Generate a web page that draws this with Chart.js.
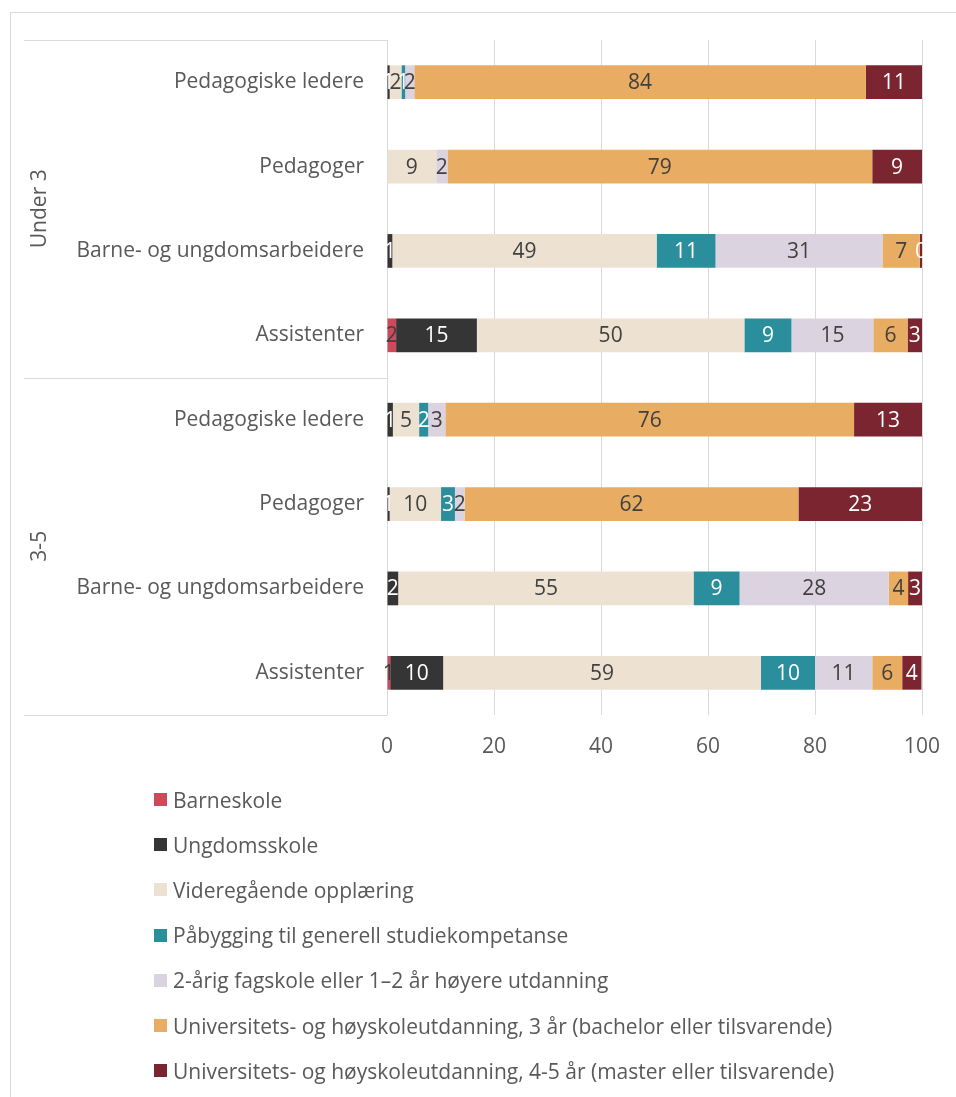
<!DOCTYPE html>
<html>
<head>
<meta charset="utf-8">
<script src="https://cdn.jsdelivr.net/npm/chart.js@4"></script>
<style>
  html, body { margin: 0; padding: 0; background: #fff; overflow: hidden; }
  #frame { position: absolute; left: 10px; top: 12px; width: 1000px; height: 1200px; border: 1px solid #d9d9d9; }
  #wrap { position: absolute; left: 0; top: 0; width: 956px; height: 780px; }
  #legend { position: absolute; left: 154px; top: 777px; font-family: "Open Sans", sans-serif; font-size: 21px; color: #595959; }
  #legend div { height: 45.2px; display: flex; align-items: center; }
  #legend span.box { display: inline-block; width: 13px; height: 13px; margin-right: 6px; }
</style>
</head>
<body>
<div id="frame"></div>
<div id="wrap"><canvas id="chart" width="956" height="780"></canvas></div>
<div id="legend"></div>
<script>
// categories (top to bottom) and groups
const categories = ['Pedagogiske ledere', 'Pedagoger', 'Barne- og ungdomsarbeidere', 'Assistenter',
                    'Pedagogiske ledere', 'Pedagoger', 'Barne- og ungdomsarbeidere', 'Assistenter'];
const groups = ['Under 3', '3-5'];
const xTicks = [0, 20, 40, 60, 80, 100];

// series values, percent
const barneskole      = [0,    0,    0,    1.7,  0,    0,    0,    0.6];
const ungdomsskole    = [0.5,  0,    1.0,  15.1, 1.1,  0.5,  2.1,  9.9];
const videregaende    = [2.2,  9.2,  49.4, 50.0, 4.9,  9.6,  55.2, 59.4];
const pabygging       = [0.7,  0,    11.0, 8.8,  1.7,  2.6,  8.6,  10.1];
const fagskole        = [1.7,  2.1,  31.2, 15.3, 3.2,  1.8,  27.9, 10.7];
const uni3            = [84.4, 79.4, 7.0,  6.4,  76.4, 62.4, 3.6,  5.6];
const uni45           = [10.5, 9.3,  0.4,  2.7,  12.7, 23.1, 2.6,  3.6];

const seriesNames = [
  'Barneskole',
  'Ungdomsskole',
  'Videregående opplæring',
  'Påbygging til generell studiekompetanse',
  '2-årig fagskole eller 1–2 år høyere utdanning',
  'Universitets- og høyskoleutdanning, 3 år (bachelor eller tilsvarende)',
  'Universitets- og høyskoleutdanning, 4-5 år (master eller tilsvarende)'
];
const seriesData = [barneskole, ungdomsskole, videregaende, pabygging, fagskole, uni3, uni45];
const colors = ['#cd4a5c', '#353535', '#ede2d2', '#2b8e9c', '#dbd4e0', '#e8ad62', '#7b2530'];
const labelColors = ['#404040', '#ffffff', '#404040', '#ffffff', '#404040', '#404040', '#ffffff'];

const FONT = '"Open Sans", sans-serif';
const SIZE = 21;
const TEXT = '#595959';
const LINE = '#d9d9d9';

// value labels centred in each segment
const valueLabels = {
  id: 'valueLabels',
  afterDatasetsDraw(chart) {
    const ctx = chart.ctx;
    ctx.save();
    ctx.font = SIZE + 'px ' + FONT;
    ctx.textAlign = 'center';
    ctx.textBaseline = 'middle';
    chart.data.datasets.forEach((ds, i) => {
      const meta = chart.getDatasetMeta(i);
      meta.data.forEach((bar, j) => {
        const v = ds.data[j];
        if (!v) return;
        ctx.fillStyle = labelColors[i];
        ctx.fillText(String(Math.round(v)), (bar.x + bar.base) / 2, bar.y + 1);
      });
    });
    ctx.restore();
  }
};

// two-level category axis: separators and rotated group labels
const groupAxis = {
  id: 'groupAxis',
  afterDraw(chart) {
    const ctx = chart.ctx;
    const area = chart.chartArea;
    const left = 24;
    const per = categories.length / groups.length;
    const step = (area.bottom - area.top) / categories.length;
    ctx.save();
    ctx.strokeStyle = LINE;
    ctx.lineWidth = 1;
    for (let g = 0; g <= groups.length; g++) {
      const yy = Math.round(area.top + g * per * step) + 0.5;
      ctx.beginPath();
      ctx.moveTo(left, yy);
      ctx.lineTo(area.left, yy);
      ctx.stroke();
    }
    ctx.fillStyle = TEXT;
    ctx.font = SIZE + 'px ' + FONT;
    ctx.textAlign = 'center';
    ctx.textBaseline = 'middle';
    groups.forEach((name, g) => {
      const cy = area.top + (g + 0.5) * per * step;
      ctx.save();
      ctx.translate(40, cy);
      ctx.rotate(-Math.PI / 2);
      ctx.fillText(name, 0, 0);
      ctx.restore();
    });
    ctx.restore();
  }
};

const chart = new Chart(document.getElementById('chart'), {
  type: 'bar',
  data: {
    labels: categories,
    datasets: seriesNames.map((name, i) => ({
      label: name,
      data: seriesData[i],
      backgroundColor: colors[i],
      borderWidth: 0,
      barPercentage: 0.4,
      categoryPercentage: 1,
      stack: 's'
    }))
  },
  plugins: [valueLabels, groupAxis],
  options: {
    indexAxis: 'y',
    responsive: false,
    animation: false,
    layout: { padding: { top: 40, right: 34, left: 24, bottom: 0 } },
    plugins: {
      legend: { display: false },
      tooltip: { enabled: false }
    },
    scales: {
      x: {
        stacked: true,
        min: 0,
        max: 100,
        afterBuildTicks: (s) => { s.ticks = xTicks.map(v => ({ value: v })); },
        afterFit: (s) => { s.height = 65; s.paddingRight = 0; s.paddingLeft = 0; },
        grid: { color: LINE, drawTicks: false },
        border: { display: false },
        ticks: { color: TEXT, font: { family: FONT, size: SIZE }, padding: 19 }
      },
      y: {
        stacked: true,
        afterFit: (s) => { s.width = 363; },
        grid: { display: false, drawTicks: false },
        border: { display: false },
        ticks: { color: TEXT, font: { family: FONT, size: SIZE }, padding: 23 }
      }
    }
  }
});

// legend, one entry per row
const legend = document.getElementById('legend');
seriesNames.forEach((name, i) => {
  const row = document.createElement('div');
  const box = document.createElement('span');
  box.className = 'box';
  box.style.background = colors[i];
  row.appendChild(box);
  row.appendChild(document.createTextNode(name));
  legend.appendChild(row);
});
</script>
</body>
</html>
